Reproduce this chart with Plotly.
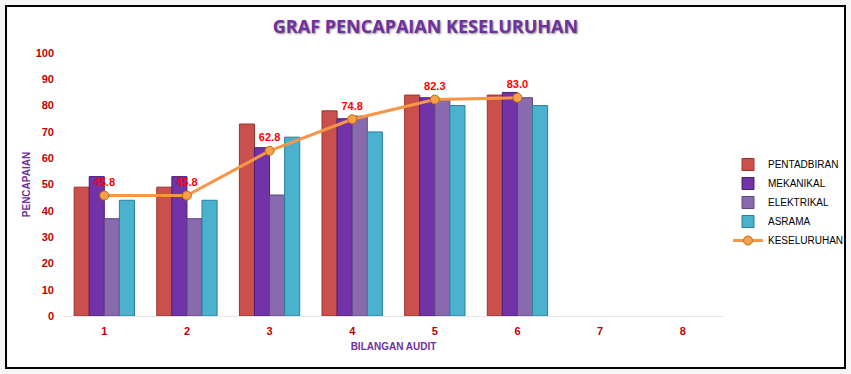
import plotly.graph_objects as go

audits = [1, 2, 3, 4, 5, 6, 7, 8]
audit_labels = ["1", "2", "3", "4", "5", "6", "7", "8"]
pentadbiran = [49, 49, 73, 78, 84, 84]
mekanikal = [53, 53, 64, 75, 83, 85]
elektrikal = [37, 37, 46, 76, 82, 83]
asrama = [44, 44, 68, 70, 80, 80]
keseluruhan = [45.8, 45.8, 62.8, 74.8, 82.3, 83.0]
y_ticks = [0, 10, 20, 30, 40, 50, 60, 70, 80, 90, 100]

W, H = 851, 374
L, R, T, B = 63, 127, 53, 58
pw, ph = W - L - R, H - T - B

def px_x(x):
    return (x - L) / pw

def px_y(y):
    return (H - B - y) / ph

series = [
    ("PENTADBIRAN", pentadbiran, "#C9504C", "#9B3431"),
    ("MEKANIKAL", mekanikal, "#7232A8", "#4B1F75"),
    ("ELEKTRIKAL", elektrikal, "#8A6AAE", "#5E4680"),
    ("ASRAMA", asrama, "#4AB2CF", "#2B7F97"),
]

fig = go.Figure()
for name, vals, col, edge in series:
    fig.add_trace(go.Bar(
        x=audits[:len(vals)], y=vals, name=name,
        marker=dict(color=col, line=dict(color=edge, width=1)),
    ))

fig.add_trace(go.Scatter(
    x=audits[:len(keseluruhan)], y=keseluruhan, name="KESELURUHAN",
    mode="lines+markers+text",
    line=dict(color="#F79646", width=3),
    marker=dict(size=9, color="#F5A24A", line=dict(color="#C46A12", width=1)),
    text=[f"{v:.1f}" for v in keseluruhan],
    textposition="top center",
    textfont=dict(color="#FF0000", size=11, family="Liberation Sans", weight="bold"),
    cliponaxis=False,
))

fig.update_layout(
    width=W, height=H,
    margin=dict(l=L, r=R, t=T, b=B, autoexpand=False),
    paper_bgcolor="#F6F6F6",
    plot_bgcolor="white",
    barmode="group",
    bargap=0.27,
    bargroupgap=0.0,
    font=dict(family="Liberation Sans"),
    title=dict(
        text="GRAF PENCAPAIAN KESELURUHAN",
        x=0.5, xanchor="center", xref="container",
        y=1 - 27 / H, yanchor="middle",
        font=dict(size=18, color="#7030A0", family="Open Sans", weight="bold",
                  shadow="1px 1px 2px #888888"),
    ),
    xaxis=dict(
        range=[0.5, 8.5],
        tickmode="array", tickvals=audits, ticktext=audit_labels,
        showgrid=False, zeroline=False,
        showline=True, linecolor="#E6E6E6", linewidth=1,
        ticks="",
        automargin=False,
        tickfont=dict(color="#C00000", size=11, weight="bold"),
        ticklabelstandoff=5,
        title=dict(text="BILANGAN AUDIT", standoff=6,
                   font=dict(color="#7030A0", size=10, weight="bold")),
    ),
    yaxis=dict(
        range=[0, 100],
        tickmode="array", tickvals=y_ticks,
        showgrid=False, zeroline=False, showline=False,
        ticks="",
        automargin=False,
        tickfont=dict(color="#C00000", size=11, weight="bold"),
        ticklabelstandoff=8,
        title=dict(text="PENCAPAIAN", standoff=3,
                   font=dict(color="#7030A0", size=10, weight="bold")),
    ),
    legend=dict(
        x=px_x(728), xanchor="left",
        y=px_y(150), yanchor="top",
        font=dict(size=10, color="#000000"),
        bgcolor="rgba(0,0,0,0)",
        itemwidth=30,
    ),
    shapes=[
        dict(type="rect", xref="paper", yref="paper",
             x0=px_x(6), x1=px_x(845), y0=px_y(368), y1=px_y(6),
             line=dict(color="#000000", width=2), fillcolor="white",
             layer="below"),
    ],
)

fig.write_html(
    "out.html",
    config={"displayModeBar": False},
    post_script="document.body.style.margin='0';document.body.style.background='#F6F6F6';",
)
